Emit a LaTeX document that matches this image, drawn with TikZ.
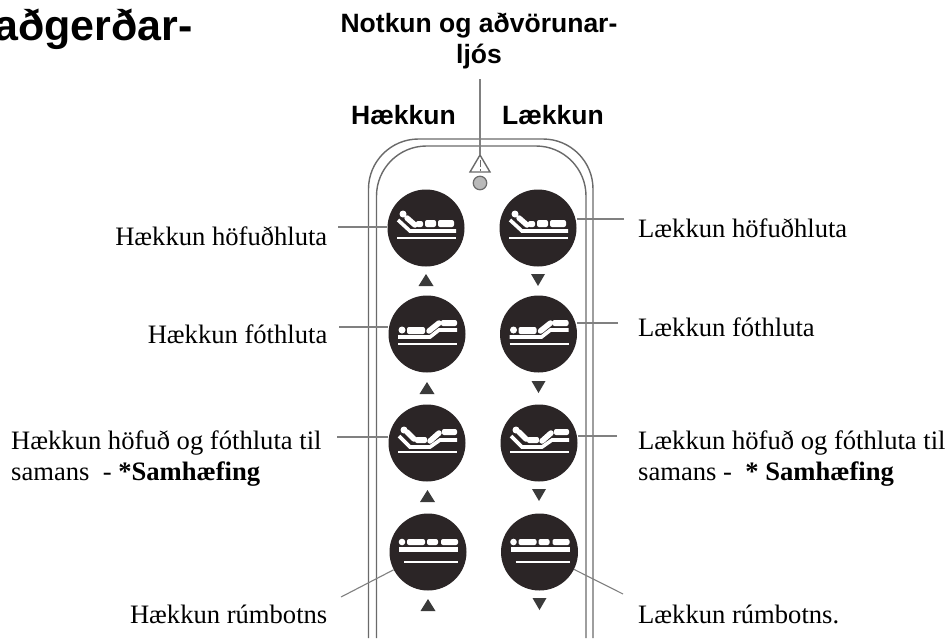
\documentclass[tikz,border=0pt]{standalone}
\usepackage{fontspec}
\setmainfont{Liberation Serif}
\setsansfont{Liberation Sans}
\definecolor{ink}{HTML}{2B2526}
\definecolor{rim}{HTML}{6A6A6A}
\definecolor{tri}{HTML}{3A3A3A}
\tikzset{
  btn/.style={circle,fill=ink,draw=none,minimum size=77pt,inner sep=0pt},
  lbl/.style={font=\fontsize{26.6}{31}\selectfont,anchor=base west,inner sep=0pt,align=left},
  hdr/.style={font=\sffamily\bfseries\fontsize{26.5}{31}\selectfont,inner sep=0pt,anchor=base},
  leader/.style={draw=rim!85,line width=1.1pt},
  casing/.style={draw=rim,line width=1.4pt,rounded corners=50pt},
  updown/.style={fill=tri,draw=none}
}
\newcommand{\headicon}{%
 \fill[white] (-23,-14) circle (3.5);
 \draw[white,line width=3.6pt] (-28,-8) -- (-16,3) -- (30,3);
 \draw[white,line width=5.5pt,line cap=round] (-19,-10) -- (-11,-3);
 \fill[white,rounded corners=2pt] (-10,-7) rectangle (-3,-1);
 \fill[white,rounded corners=2pt] (-1,-8) rectangle (10,-1);
 \fill[white,rounded corners=2pt] (12,-8) rectangle (28,-1);
 \draw[white,line width=2.2pt] (-29,10) -- (30,10);}
\newcommand{\footicon}{%
 \fill[white] (-25,-4) circle (3.5);
 \draw[white,line width=3.6pt] (-29,3) -- (3,3) -- (12,-4) -- (30,-4);
 \fill[white,rounded corners=2pt] (-20,-7) rectangle (-2,0);
 \draw[white,line width=5.5pt,line cap=round] (2,-3) -- (12,-11);
 \fill[white,rounded corners=2pt] (14,-14) rectangle (30,-8);
 \draw[white,line width=2.2pt] (-29,10) -- (30,10);}
\newcommand{\bothicon}{%
 \fill[white] (-23,-13) circle (3.5);
 \draw[white,line width=3.6pt] (-28,-7) -- (-17,4) -- (3,4) -- (13,-3) -- (30,-3);
 \draw[white,line width=5.5pt,line cap=round] (-20,-11) -- (-13,-4);
 \fill[white,rounded corners=2pt] (-12,-6) rectangle (0,0);
 \draw[white,line width=5.5pt,line cap=round] (3,-2) -- (12,-10);
 \fill[white,rounded corners=2pt] (15,-14) rectangle (30,-8);
 \draw[white,line width=2.2pt] (-29,9) -- (30,9);}
\newcommand{\flaticon}{%
 \fill[white] (-26,-10) circle (3.3);
 \fill[white,rounded corners=2pt] (-21,-13) rectangle (-3,-7);
 \fill[white,rounded corners=2pt] (-1,-13) rectangle (10,-7);
 \fill[white,rounded corners=2pt] (13,-13) rectangle (30,-7);
 \fill[white] (-29,-5) rectangle (30,0);
 \draw[white,line width=2.2pt] (-24,10) -- (30,10);}
\begin{document}
\begin{tikzpicture}[x=1pt,y=-1pt]
\useasboundingbox (0,0) rectangle (948,638);
\fill[white] (0,0) rectangle (948,638);
% casing
\path[casing] (368.5,638) -- (368.5,139) -- (593,139) -- (593,638);
\path[casing] (376.5,638) -- (376.5,146) -- (586,146) -- (586,638);
% texts
\node[font=\sffamily\bfseries\fontsize{43}{48}\selectfont,inner sep=0pt,anchor=base east] (title) at (193,40) {aðgerðar-};
\node[hdr] (notkun) at (479,32) {Notkun og aðvörunar-};
\node[hdr] (ljos) at (479,63) {ljós};
\node[hdr] (haek) at (403.5,124) {Hækkun};
\node[hdr] (laek) at (553,124) {Lækkun};
\node[lbl,anchor=base east] (l1) at (327.5,245) {Hækkun höfuðhluta};
\node[lbl,anchor=base east] (l2) at (327.5,343) {Hækkun fóthluta};
\node[lbl] (l3) at (11,480) {Hækkun höfuð og fóthluta til\\samans\ \ - \textbf{*Samhæfing}};
\node[lbl,anchor=base east] (l4) at (327.5,623) {Hækkun rúmbotns};
\node[lbl] (r1) at (638,237) {Lækkun höfuðhluta};
\node[lbl] (r2) at (638,336) {Lækkun fóthluta};
\node[lbl] (r3) at (638,480) {Lækkun höfuð og fóthluta til\\samans -\ \ \textbf{* Samhæfing}};
\node[lbl] (r4) at (638,623) {Lækkun rúmbotns.};
% leaders' free ends
\coordinate (fn) at (480,79);
\coordinate (e1) at (338,227);
\coordinate (e2) at (339,327);
\coordinate (e3) at (337,437);
\coordinate (e4) at (341,597);
\coordinate (f1) at (624,219);
\coordinate (f2) at (618,323);
\coordinate (f3) at (617,436);
\coordinate (f4) at (623,594);
% buttons
\node[btn] (b1) at (426,228) {};
\node[btn] (c1) at (538,228) {};
\node[btn] (b2) at (427,334) {};
\node[btn] (c2) at (538.5,334) {};
\node[btn] (b3) at (427,443) {};
\node[btn] (c3) at (539,443) {};
\node[btn] (b4) at (428,552) {};
\node[btn] (c4) at (539.5,552) {};
\draw[leader] (e1) -- (b1.west |- e1);
\draw[leader] (e2) -- (b2.west |- e2);
\draw[leader] (e3) -- (b3.west |- e3);
\draw[leader] (e4) -- (b4);
\draw[leader] (f1) -- (c1.east |- f1);
\draw[leader] (f2) -- (c2.east |- f2);
\draw[leader] (f3) -- (c3.east |- f3);
\draw[leader] (f4) -- (c4);
\begin{scope}[shift={(b1.center)}]\headicon\end{scope}
\begin{scope}[shift={(c1.center)}]\headicon\end{scope}
\begin{scope}[shift={(b2.center)}]\footicon\end{scope}
\begin{scope}[shift={(c2.center)}]\footicon\end{scope}
\begin{scope}[shift={(b3.center)}]\bothicon\end{scope}
\begin{scope}[shift={(c3.center)}]\bothicon\end{scope}
\begin{scope}[shift={(b4.center)}]\flaticon\end{scope}
\begin{scope}[shift={(c4.center)}]\flaticon\end{scope}
% arrow marks
\foreach \x/\y in {426/280,427/388,427.5/496,428/605}
  \fill[updown] (\x-7.5,\y+6) -- (\x+7.5,\y+6) -- (\x,\y-6) -- cycle;
\foreach \x/\y in {538/280,538.5/387,539/495,539.5/604}
  \fill[updown] (\x-7,\y-6) -- (\x+7,\y-6) -- (\x,\y+6) -- cycle;
% warning
\node[circle,fill=gray!55,draw=rim,line width=1.2pt,minimum size=13.5pt,inner sep=0pt] (led) at (480,183) {};
\coordinate (warntip) at (480,155);
\coordinate (warnl) at (470,172);
\coordinate (warnr) at (490,172);
\draw[draw=rim,line width=1.4pt] (warntip) -- (warnl) -- (warnr) -- cycle;
\draw[draw=rim,line width=1pt] (480,160) -- (480,167) (480,169) -- (480,170.5);
\draw[leader] (fn) -- (warntip);
\end{tikzpicture}
\end{document}
